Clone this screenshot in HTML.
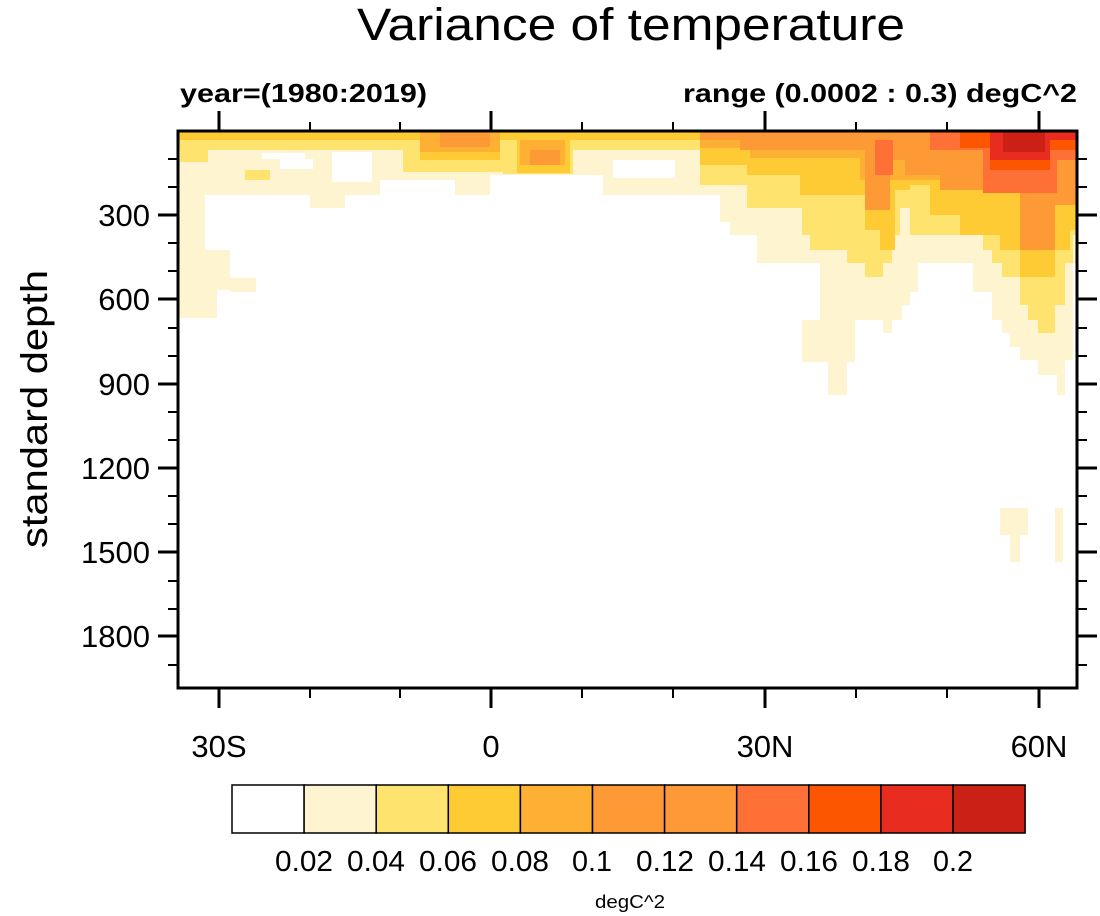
<!DOCTYPE html>
<html><head><meta charset="utf-8"><style>
html,body{margin:0;padding:0;background:#fff;}
svg{display:block;}
text{font-family:"Liberation Sans",Helvetica,Arial,sans-serif;fill:#000;}
</style></head><body>
<svg width="1100" height="916" viewBox="0 0 1100 916" xmlns="http://www.w3.org/2000/svg">
<rect width="1100" height="916" fill="#fff"/>
<text x="631" y="40" font-size="45" text-anchor="middle" textLength="548" lengthAdjust="spacingAndGlyphs">Variance of temperature</text>
<text x="180" y="102" font-size="26" font-weight="bold" textLength="247" lengthAdjust="spacingAndGlyphs">year=(1980:2019)</text>
<text x="1077" y="102" font-size="26" font-weight="bold" text-anchor="end" textLength="394" lengthAdjust="spacingAndGlyphs">range (0.0002 : 0.3) degC^2</text>

<g shape-rendering="crispEdges">
<path fill="#fef4cf" d="M178,131 V250 H205 V195 H310 V208 H345 V195 H380 V180 H455 V195 H490 V175 H603 V195 H720 V222 H730 V235 H757 V263 H820 V320 H828 V395 H847 V320 H883 V333 H892 V320 H902 V305 H910 V292 H918 V263 H973 V292 H992 V320 H1002 V333 H1010 V347 H1020 V360 H1038 V375 H1057 V395 H1065 V360 H1073 V263 H1077 V131 Z"/>
<rect x="178" y="250" width="39" height="68" fill="#fef4cf"/>
<rect x="217" y="250" width="13" height="40" fill="#fef4cf"/>
<rect x="230" y="278" width="26" height="14" fill="#fef4cf"/>
<rect x="802" y="320" width="53" height="42" fill="#fef4cf"/>
<rect x="1000" y="508" width="28" height="27" fill="#fef4cf"/>
<rect x="1010" y="535" width="10" height="27" fill="#fef4cf"/>
<rect x="1055" y="508" width="8" height="54" fill="#fef4cf"/>
<rect x="262" y="153" width="43" height="6" fill="#fff"/>
<rect x="280" y="159" width="33" height="10" fill="#fff"/>
<rect x="332" y="152" width="40" height="30" fill="#fff"/>
<rect x="613" y="160" width="62" height="18" fill="#fff"/>
<path fill="#fee46f" d="M178,131 V150 H700 V185 H747 V208 H802 V235 H810 V250 H847 V263 H865 V277 H883 V263 H892 V235 H900 V208 H910 V235 H983 V250 H992 V263 H1002 V277 H1020 V305 H1028 V320 H1038 V333 H1055 V305 H1065 V263 H1073 V235 H1077 V131 Z"/>
<rect x="180" y="150" width="28" height="12" fill="#fee46f"/>
<rect x="245" y="170" width="25" height="10" fill="#fee46f"/>
<rect x="403" y="150" width="100" height="22" fill="#fee46f"/>
<rect x="503" y="150" width="70" height="24" fill="#fee46f"/>
<path fill="#fecb35" d="M178,131 V140 H700 V165 H747 V175 H800 V195 H865 V230 H880 V250 H895 V190 H910 V185 H930 V215 H960 V235 H1000 V250 H1020 V277 H1055 V250 H1070 V230 H1077 V131 Z"/>
<rect x="420" y="140" width="80" height="20" fill="#fecb35"/>
<rect x="517" y="140" width="53" height="33" fill="#fecb35"/>
<rect x="420" y="131" width="80" height="21" fill="#feb034"/>
<rect x="520" y="140" width="45" height="25" fill="#feb034"/>
<path fill="#feb034" d="M700,131 V148 H750 V158 H860 V180 H1077 V131 Z"/>
<path fill="#fd9a35" d="M700,131 V140 H740 V150 H865 V210 H890 V160 H905 V175 H940 V190 H1020 V250 H1055 V205 H1077 V131 Z"/>
<rect x="440" y="133" width="50" height="14" fill="#fd9a35"/>
<rect x="530" y="150" width="30" height="15" fill="#fd9a35"/>
<path fill="#fe7035" d="M930,131 V150 H983 V193 H1057 V160 H1077 V131 Z"/>
<rect x="875" y="140" width="18" height="35" fill="#fe7035"/>
<path fill="#fd5600" d="M960,131 V148 H990 V170 H1050 V150 H1077 V131 Z"/>
<path fill="#e82c20" d="M990,131 V160 H1050 V140 H1077 V131 Z"/>
<path fill="#cb2016" d="M1003,131 V152 H1045 V131 Z"/>
</g>

<g stroke="#000" fill="none">
<rect x="178" y="131" width="899" height="557" stroke-width="3"/>
<path stroke-width="3" d="M219,688 V708 M491,688 V708 M765,688 V708 M1039,688 V708 M219,131 V111 M491,131 V111 M765,131 V111 M1039,131 V111"/>
<path stroke-width="2" d="M310,688 V698 M400,688 V698 M582,688 V698 M673,688 V698 M856,688 V698 M947,688 V698 M310,131 V122 M400,131 V122 M582,131 V122 M673,131 V122 M856,131 V122 M947,131 V122"/>
<path stroke-width="3" d="M158,215 H178 M158,299 H178 M158,384 H178 M158,468 H178 M158,552 H178 M158,636 H178 M1077,215 H1097 M1077,299 H1097 M1077,384 H1097 M1077,468 H1097 M1077,552 H1097 M1077,636 H1097"/>
<path stroke-width="2" d="M168,159 H178 M168,187 H178 M168,243 H178 M168,271 H178 M168,328 H178 M168,356 H178 M168,412 H178 M168,440 H178 M168,496 H178 M168,524 H178 M168,581 H178 M168,609 H178 M168,665 H178 M1077,159 H1087 M1077,187 H1087 M1077,243 H1087 M1077,271 H1087 M1077,328 H1087 M1077,356 H1087 M1077,412 H1087 M1077,440 H1087 M1077,496 H1087 M1077,524 H1087 M1077,581 H1087 M1077,609 H1087 M1077,665 H1087"/>
</g>

<g font-size="31" text-anchor="end">
<text x="150" y="226">300</text>
<text x="150" y="310">600</text>
<text x="150" y="395">900</text>
<text x="150" y="479">1200</text>
<text x="150" y="563">1500</text>
<text x="150" y="647">1800</text>
</g>
<g font-size="31" text-anchor="middle">
<text x="219" y="757">30S</text>
<text x="491" y="757">0</text>
<text x="765" y="757">30N</text>
<text x="1039" y="757">60N</text>
</g>
<text transform="translate(47,409) rotate(-90)" font-size="37" text-anchor="middle" textLength="278" lengthAdjust="spacingAndGlyphs">standard depth</text>

<g stroke="#000" stroke-width="1.5">
<rect x="232" y="785" width="72.1" height="48" fill="#ffffff"/>
<rect x="304.1" y="785" width="72.1" height="48" fill="#fef4cf"/>
<rect x="376.2" y="785" width="72.1" height="48" fill="#fee46f"/>
<rect x="448.3" y="785" width="72.1" height="48" fill="#fecb35"/>
<rect x="520.4" y="785" width="72.1" height="48" fill="#feb034"/>
<rect x="592.5" y="785" width="72.1" height="48" fill="#fd9a35"/>
<rect x="664.6" y="785" width="72.1" height="48" fill="#fd9937"/>
<rect x="736.7" y="785" width="72.1" height="48" fill="#fe7035"/>
<rect x="808.8" y="785" width="72.1" height="48" fill="#fd5600"/>
<rect x="880.9" y="785" width="72.1" height="48" fill="#e82c20"/>
<rect x="953" y="785" width="72.1" height="48" fill="#cb2016"/>
</g>
<g font-size="29" text-anchor="middle">
<text x="304" y="871" textLength="58" lengthAdjust="spacingAndGlyphs">0.02</text>
<text x="376" y="871" textLength="58" lengthAdjust="spacingAndGlyphs">0.04</text>
<text x="448" y="871" textLength="58" lengthAdjust="spacingAndGlyphs">0.06</text>
<text x="520" y="871" textLength="58" lengthAdjust="spacingAndGlyphs">0.08</text>
<text x="592" y="871" textLength="40" lengthAdjust="spacingAndGlyphs">0.1</text>
<text x="665" y="871" textLength="58" lengthAdjust="spacingAndGlyphs">0.12</text>
<text x="737" y="871" textLength="58" lengthAdjust="spacingAndGlyphs">0.14</text>
<text x="809" y="871" textLength="58" lengthAdjust="spacingAndGlyphs">0.16</text>
<text x="881" y="871" textLength="58" lengthAdjust="spacingAndGlyphs">0.18</text>
<text x="953" y="871" textLength="40" lengthAdjust="spacingAndGlyphs">0.2</text>
</g>
<text x="630" y="908" font-size="18" text-anchor="middle" textLength="70" lengthAdjust="spacingAndGlyphs">degC^2</text>
</svg>
</body></html>
